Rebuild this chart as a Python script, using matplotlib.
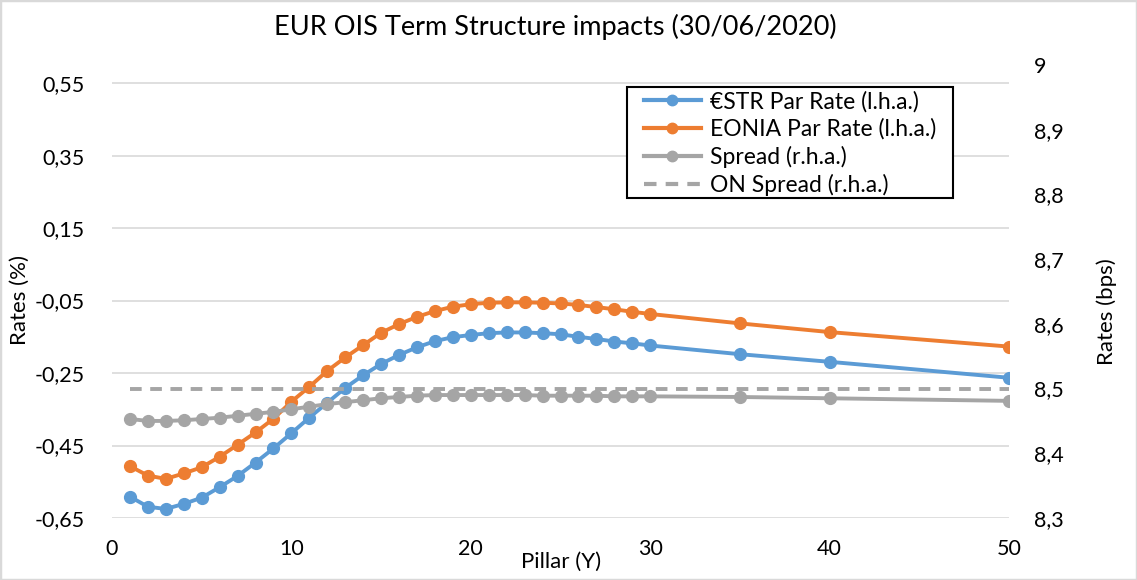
import matplotlib
matplotlib.use("Agg")
import matplotlib.pyplot as plt
from matplotlib.lines import Line2D
from matplotlib.patches import Rectangle

plt.rcParams['font.family'] = ['Lato', 'DejaVu Sans']

pillars = [1, 2, 3, 4, 5, 6, 7, 8, 9, 10, 11, 12, 13, 14, 15, 16, 17, 18, 19, 20,
           21, 22, 23, 24, 25, 26, 27, 28, 29, 30, 35, 40, 50]
estr = [-0.591, -0.619, -0.625, -0.611, -0.594, -0.565, -0.534, -0.497, -0.458, -0.416,
        -0.373, -0.332, -0.291, -0.256, -0.225, -0.200, -0.179, -0.162, -0.151, -0.145,
        -0.140, -0.138, -0.138, -0.140, -0.143, -0.150, -0.156, -0.163, -0.168, -0.174,
        -0.198, -0.219, -0.263]
eonia = [-0.507, -0.533, -0.542, -0.527, -0.510, -0.481, -0.448, -0.414, -0.376, -0.329,
         -0.288, -0.244, -0.207, -0.173, -0.139, -0.115, -0.095, -0.079, -0.067, -0.060,
         -0.056, -0.055, -0.055, -0.056, -0.058, -0.062, -0.068, -0.074, -0.081, -0.087,
         -0.113, -0.137, -0.177]
spread = [8.453, 8.450, 8.450, 8.451, 8.453, 8.455, 8.458, 8.461, 8.464, 8.468,
          8.472, 8.476, 8.479, 8.482, 8.485, 8.487, 8.489, 8.490, 8.490, 8.490,
          8.490, 8.490, 8.490, 8.489, 8.489, 8.489, 8.489, 8.488, 8.488, 8.488,
          8.487, 8.485, 8.481]
on_spread = [8.5] * len(pillars)

left_ticks = [-0.65, -0.45, -0.25, -0.05, 0.15, 0.35, 0.55]
right_ticks = [8.3, 8.4, 8.5, 8.6, 8.7, 8.8, 8.9, 9.0]
x_ticks = [0, 10, 20, 30, 40, 50]

BLUE = '#5B9BD5'
ORANGE = '#ED7D31'
GRAY = '#A5A5A5'

W, H = 1137, 580
fig = plt.figure(figsize=(W / 100, H / 100), dpi=100)
fig.patches.append(Rectangle((0, 0), 1, 1, transform=fig.transFigure, fill=False,
                             edgecolor='#D9D9D9', linewidth=2.5))
ax = fig.add_axes([112 / W, 62 / H, (1009 - 112) / W, (518 - 65) / H])
ax2 = ax.twinx()

ax.plot(pillars, estr, color=BLUE, lw=2.8, marker='o', ms=8.5, zorder=3)
ax.plot(pillars, eonia, color=ORANGE, lw=2.8, marker='o', ms=8.5, zorder=3)
ax2.plot(pillars, spread, color=GRAY, lw=2.8, marker='o', ms=8.5, zorder=3)
ax2.plot(pillars, on_spread, color=GRAY, lw=2.8, ls=(0, (3, 2.2)), zorder=3)

ax.set_xlim(0, 50)
ax.set_ylim(-0.65, 0.60)
ax2.set_ylim(8.3, 9.0)
ax.set_xticks(x_ticks)
ax.set_yticks(left_ticks)
ax2.set_yticks(right_ticks)
ax.set_yticklabels([f"{v:.2f}".replace('.', ',') for v in left_ticks])
ax2.set_yticklabels([("9" if v == 9.0 else f"{v:.1f}".replace('.', ',')) for v in right_ticks])
ax.set_xticklabels([str(v) for v in x_ticks])

ax.grid(axis='y', color='#D9D9D9', lw=1.2)
ax.set_axisbelow(True)
for a in (ax, ax2):
    for s in a.spines.values():
        s.set_visible(False)
    a.tick_params(length=0, labelsize=15.5, colors='#000000')
ax.tick_params(axis='y', pad=19.5)
ax.tick_params(axis='x', pad=15)
ax2.tick_params(axis='y', pad=18)

fig.text(555 / W, 1 - 27 / H, "EUR OIS Term Structure impacts (30/06/2020)",
         ha='center', va='center', fontsize=19.5)
fig.text(561 / W, 1 - 562 / H, "Pillar (Y)", ha='center', va='center', fontsize=16)
fig.text(20 / W, 1 - 300 / H, "Rates (%)", ha='center', va='center', rotation=90, fontsize=16)
fig.text(1107 / W, 1 - 312 / H, "Rates (bps)", ha='center', va='center', rotation=90, fontsize=16)

# legend box
fig.patches.append(Rectangle((627 / W, 1 - 198 / H), (953 - 627) / W, (198 - 87) / H,
                             transform=fig.transFigure, fill=True, facecolor='white',
                             edgecolor='black', linewidth=1.5, zorder=5))
handles = [
    Line2D([], [], color=BLUE, lw=3, marker='o', ms=7.5),
    Line2D([], [], color=ORANGE, lw=3, marker='o', ms=7.5),
    Line2D([], [], color=GRAY, lw=3, marker='o', ms=7.5),
    Line2D([], [], color=GRAY, lw=3, ls=(0, (3, 2.2))),
]
labels = ["€STR Par Rate (l.h.a.)", "EONIA Par Rate (l.h.a.)", "Spread (r.h.a.)", "ON Spread (r.h.a.)"]
leg = fig.legend(handles, labels, loc='upper left',
                 bbox_to_anchor=(639 / W, 1 - 86 / H),
                 fontsize=16.5, frameon=False, handlelength=2.5,
                 handletextpad=0.4, labelspacing=0.27, borderpad=0.2, borderaxespad=0)
leg.set_zorder(6)

fig.savefig("out.png", dpi=100)
